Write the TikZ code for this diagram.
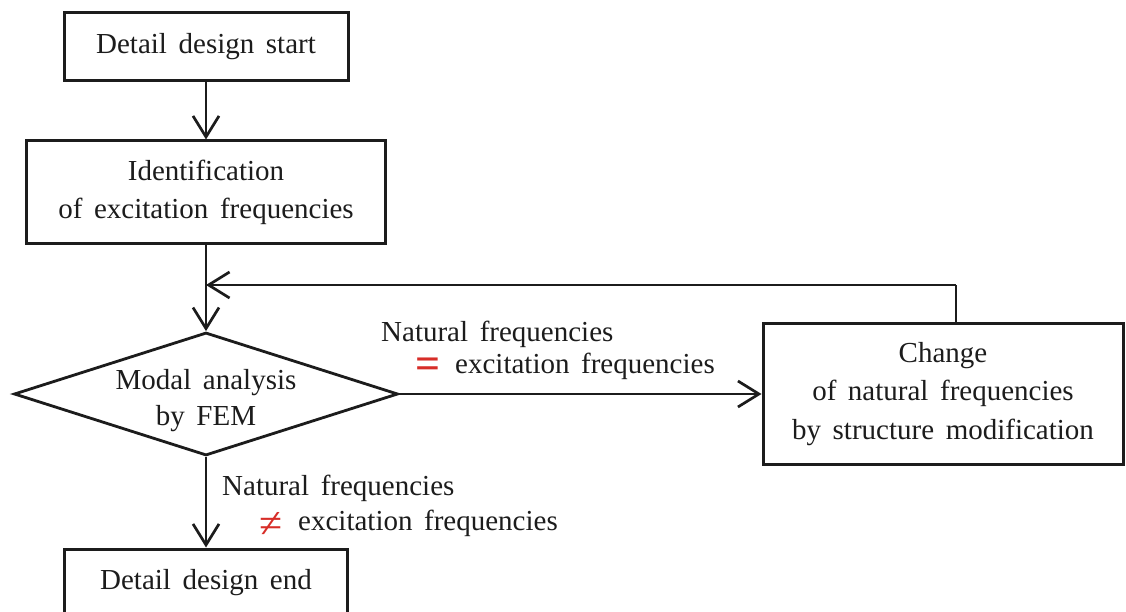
\documentclass[tikz,border=0pt]{standalone}
\usepackage{fontspec}
\setmainfont{Liberation Serif}[WordSpace=1.6]
\usetikzlibrary{shapes.geometric,arrows.meta}

\definecolor{ink}{RGB}{28,28,28}
\definecolor{relred}{RGB}{215,45,40}

\tikzset{
  txt/.style={font=\fontsize{29}{38.5}\selectfont, text=ink},
  box/.style={txt, draw=ink, line width=3pt, rectangle, align=center, inner sep=0pt},
  decision/.style={draw=ink, line width=2.8pt, diamond, inner sep=0pt},
  flow/.style={draw=ink, line width=2.7pt, -{Straight Barb[length=21pt,width=26pt,line width=2.7pt]}},
  link/.style={draw=ink, line width=2.7pt},
  lbl/.style={txt, anchor=west, inner sep=0pt},
  rel/.style={text=relred, inner sep=0pt},
}

\begin{document}
\begin{tikzpicture}[x=1pt, y=-1pt]
  \clip (0,0) rectangle (1126,612);
  \fill[white] (0,0) rectangle (1126,612);

  % main column, centred on x = 206
  \node[box, minimum width=284pt, minimum height=68pt] (start) at (206,47) {Detail design start};
  \node[box, minimum width=359pt, minimum height=103pt] (ident) at (206,192.5)
    {Identification\\of excitation frequencies};
  \node[decision, minimum width=384pt, minimum height=123pt] (fem) at (206,394) {};
  \node[txt, align=center, inner sep=0pt, font=\fontsize{29}{36}\selectfont] (femtext) at (206,401)
    {Modal analysis\\by FEM};
  \node[box, minimum width=283pt, minimum height=68pt] (finish) at (206,583) {Detail design end};

  % modification step on the right
  \node[box, minimum width=360pt, minimum height=141pt] (change) at (943,394)
    {Change\\of natural frequencies\\by structure modification};

  % feedback loop points
  \coordinate (rise) at (956,323.5);
  \coordinate (corner) at (956,285);
  \coordinate (join) at (206,285);

  % connectors
  \draw[flow] (start.south) -- (ident.north);
  \draw[flow] (ident.south) -- (fem.north);
  \draw[link] (rise) -- (corner);
  \draw[flow] (corner) -- (join);
  \draw[flow] (fem.east) -- (change.west);
  \draw[flow] (fem.south) -- (finish.north);

  % branch labels
  \node[lbl] (eqa) at (381,334) {Natural frequencies};
  \node[lbl] (eqb) at (455,366) {excitation frequencies};
  \node[rel, anchor=east, font=\fontsize{44}{44}\selectfont\bfseries] (eqs) at (441,368) {=};
  \node[lbl] (nea) at (222,488) {Natural frequencies};
  \node[lbl] (neb) at (298,523) {excitation frequencies};
  \node[rel, anchor=east, font=\fontsize{42}{42}\selectfont] (nes) at (283,525) {≠};
\end{tikzpicture}
\end{document}
